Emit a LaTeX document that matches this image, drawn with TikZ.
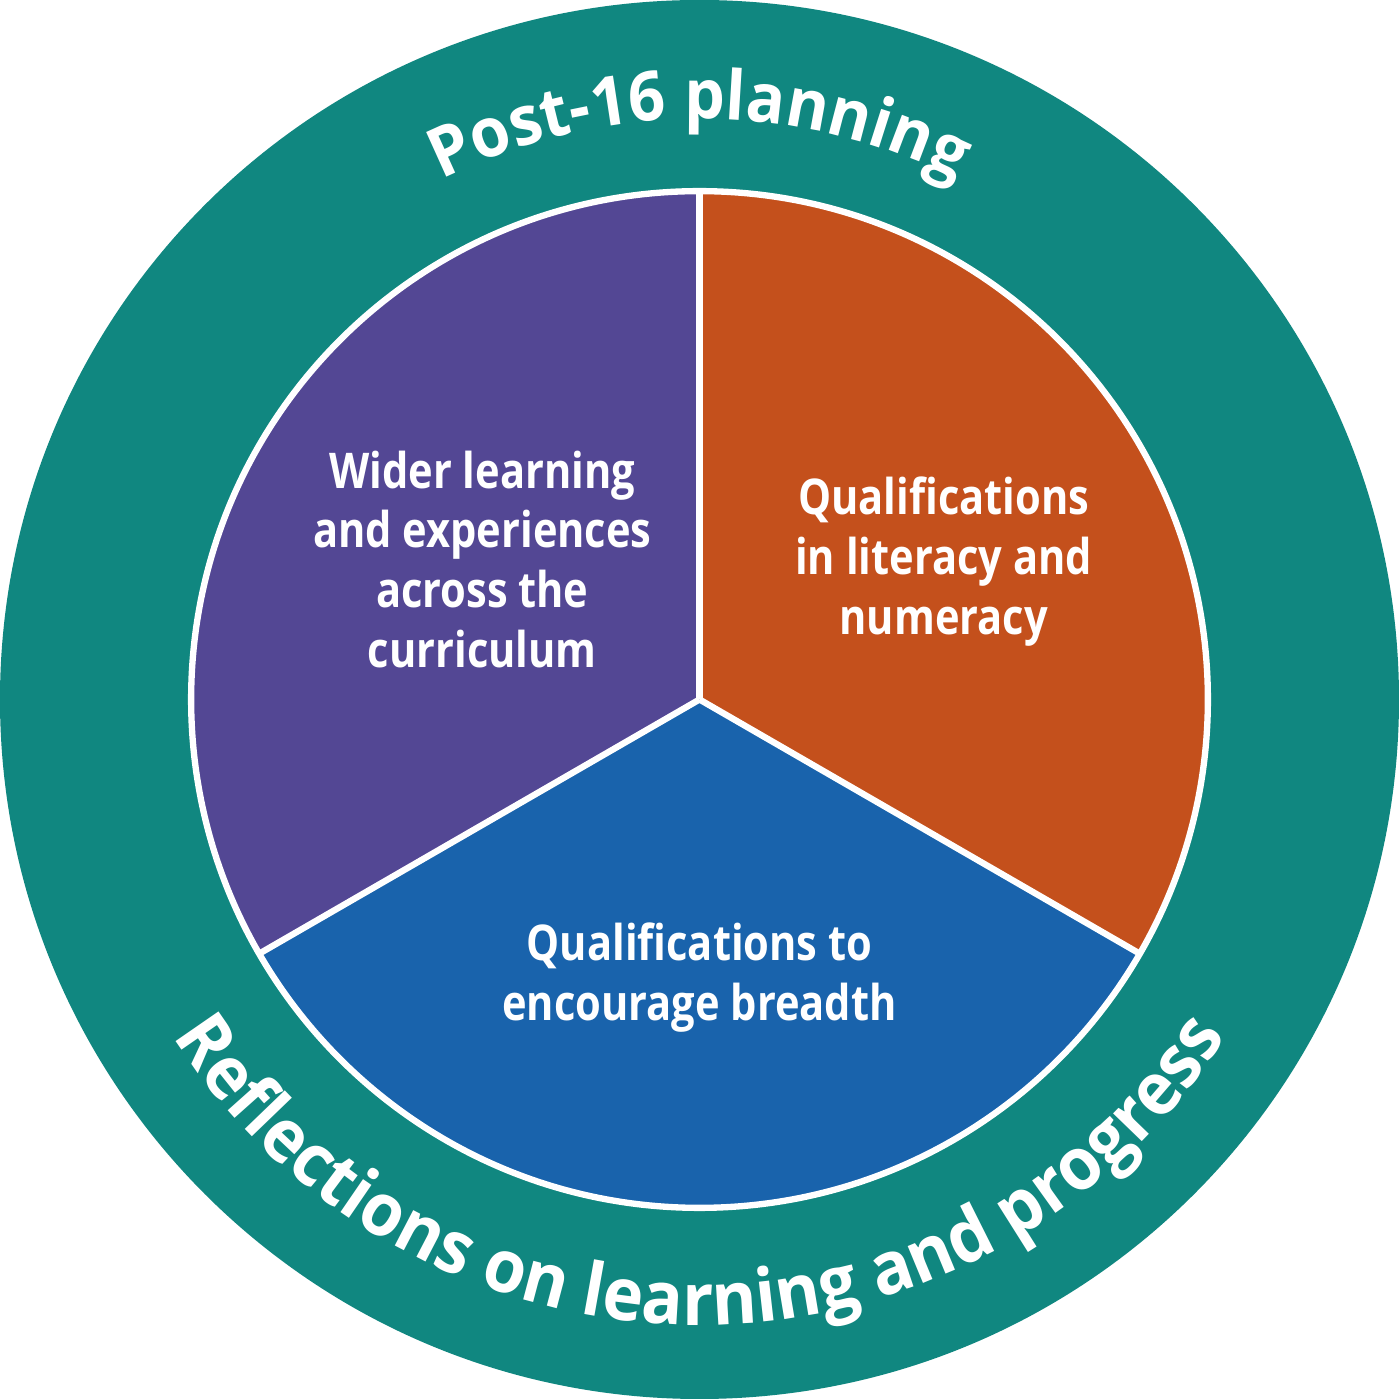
\documentclass[tikz,border=0pt]{standalone}
\usepackage{fontspec}
\setmainfont{Open Sans}
\newfontfamily\segfont[FakeStretch=0.845]{Open Sans}
\newfontfamily\ringfont[FakeStretch=0.94]{Open Sans}
\usetikzlibrary{decorations.text}
\definecolor{ringteal}{RGB}{16,135,128}
\definecolor{widerpurple}{RGB}{83,71,148}
\definecolor{litorange}{RGB}{196,80,28}
\definecolor{breadthblue}{RGB}{25,99,172}
\tikzset{every picture/.style={line width=0.75pt}}

\begin{document}
\begin{tikzpicture}[
    seglabel/.style={text=white,align=center,font=\segfont\bfseries\fontsize{14}{17}\selectfont},
    divider/.style={white,line width=1.8pt}
  ]
    \useasboundingbox (-6.99,-6.99) rectangle (6.99,6.99);
    \fill[ringteal] (0,0) circle (6.99);
    % the three segments
    \fill[widerpurple] (0,0) -- (90:5.08) arc[start angle=90,end angle=210,radius=5.08] -- cycle;
    \fill[litorange] (0,0) -- (-30:5.08) arc[start angle=-30,end angle=90,radius=5.08] -- cycle;
    \fill[breadthblue] (0,0) -- (210:5.08) arc[start angle=210,end angle=330,radius=5.08] -- cycle;
    \draw[divider] (0,0) circle (5.08);
    \foreach \a in {90,210,330} { \draw[divider] (0,0) -- (\a:5.08); }
    \node[seglabel] (wider) at (-2.17,1.4) {Wider learning\\and experiences\\across the\\curriculum};
    \node[seglabel] (literacy) at (2.44,1.38) {Qualifications\\in literacy and\\numeracy};
    \node[seglabel] (breadth) at (0,-2.78) {Qualifications to\\encourage breadth};
    % curved titles in the ring
    \path[decorate,decoration={text along path,text align=center,text color=white,
        text={|\ringfont\bfseries\fontsize{19.5}{24}\selectfont|Post-16 planning}}]
        (150:5.8) arc[start angle=150,end angle=30,radius=5.8];
    \path[decorate,decoration={text along path,text align=center,text color=white,
        text={|\ringfont\bfseries\fontsize{20.8}{25}\selectfont|Reflections on learning and progress}}]
        (200:6.25) arc[start angle=200,end angle=340,radius=6.25];
\end{tikzpicture}
\end{document}
